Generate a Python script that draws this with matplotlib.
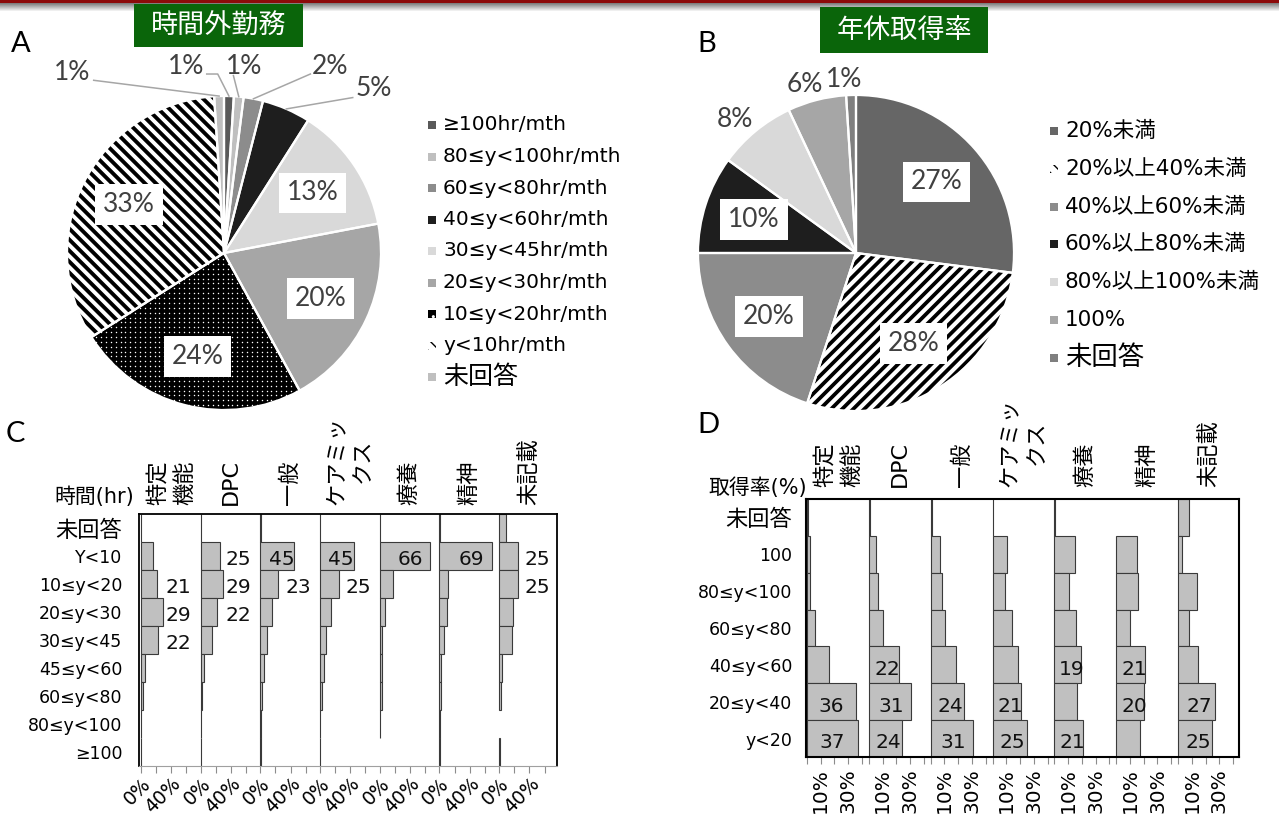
#!/usr/bin/env python3
"""
時間外勤務 / 年休取得率 : two pies (A, B) and panel histograms by hospital type (C, D).
"""
import numpy as np
import matplotlib
matplotlib.use("Agg")
import matplotlib.pyplot as plt
from matplotlib.collections import LineCollection
from matplotlib.patches import Rectangle

plt.rcParams["font.family"] = ["DejaVu Sans", "Noto Sans CJK JP"]
plt.rcParams["axes.unicode_minus"] = False

W_PX, H_PX = 1279, 818

# ---- A: overtime hours per month (% of respondents) ----
ot_labels = ["≥100hr/mth", "80≤y<100hr/mth", "60≤y<80hr/mth", "40≤y<60hr/mth",
             "30≤y<45hr/mth", "20≤y<30hr/mth", "10≤y<20hr/mth", "y<10hr/mth", "未回答"]
ot_share = [1, 1, 2, 5, 13, 20, 24, 33, 1]
ot_colors = ["#595959", "#bfbfbf", "#8c8c8c", "#1e1e1e", "#d9d9d9",
             "#a6a6a6", "#000000", "#ffffff", "#bfbfbf"]

# ---- B: paid-leave uptake (% of respondents) ----
lv_labels = ["20%未満", "20%以上40%未満", "40%以上60%未満", "60%以上80%未満",
             "80%以上100%未満", "100%", "未回答"]
lv_share = [27, 28, 20, 10, 8, 6, 1]
lv_colors = ["#666666", "#ffffff", "#8c8c8c", "#1e1e1e", "#d9d9d9", "#a6a6a6", "#7f7f7f"]

hosp_types = ["特定\n機能", "DPC", "一般", "ケアミッ\nクス", "療養", "精神", "未記載"]

# ---- C: overtime band by hospital type (%) ----
c_rows = ["未回答", "Y<10", "10≤y<20", "20≤y<30", "30≤y<45",
          "45≤y<60", "60≤y<80", "80≤y<100", "≥100"]
c_tokutei = [0.5, 16, 21, 29, 22, 5, 3, 0.5, 0.5]
c_dpc = [0.5, 25, 29, 22, 15.5, 5, 2, 0.5, 0.5]
c_ippan = [0.5, 45, 23, 15.5, 8.5, 4.5, 2.5, 0.5, 0.5]
c_caremix = [0.5, 45, 25, 14.5, 8, 5.5, 3, 0.5, 0.5]
c_ryoyo = [0.3, 66, 18, 7.5, 3.5, 2.5, 2.5, 0.3, 0]
c_seishin = [0.3, 69, 11.5, 9.5, 6, 2.5, 2, 0.5, 0.5]
c_mikisai = [9, 25, 25, 18, 17, 3.5, 3, 0, 0.5]

# ---- D: leave uptake band by hospital type (%) ----
d_rows = ["未回答", "100", "80≤y<100", "60≤y<80", "40≤y<60", "20≤y<40", "y<20"]
d_tokutei = [1, 2.5, 2.5, 6, 16, 36, 37]
d_dpc = [0.5, 5, 7, 10, 22, 31, 24]
d_ippan = [0.8, 6.5, 8.5, 10.5, 18.5, 24, 31]
d_caremix = [0.5, 10.5, 9, 14, 18.5, 21, 25]
d_ryoyo = [0.3, 15, 10.5, 15.5, 19, 16.5, 21]
d_seishin = [0, 15, 15.5, 10, 21, 20, 17]
d_mikisai = [8, 2.5, 13.5, 8, 14.5, 27, 25]

c_values = [c_tokutei, c_dpc, c_ippan, c_caremix, c_ryoyo, c_seishin, c_mikisai]
d_values = [d_tokutei, d_dpc, d_ippan, d_caremix, d_ryoyo, d_seishin, d_mikisai]

BAR_FC, BAR_EC = "#c0c0c0", "#3a3a3a"
LABEL_MIN = 19
PCT_GREY = "#404040"
GREEN = "#0a650a"

fig = plt.figure(figsize=(W_PX / 100, H_PX / 100), dpi=100)

# overlay in pixel coordinates for the header rule, captions and legends
ov = fig.add_axes([0, 0, 1, 1])
ov.axis("off")
band = np.ones((12, 1, 3))
band[:3, 0, :] = [0.55, 0.04, 0.04]
band[3:, 0, :] = np.linspace(0.5, 1.0, 9)[:, None]
ov.imshow(band, extent=(0, W_PX, 12, 0), aspect="auto", interpolation="bilinear", zorder=1)
ov.set_xlim(0, W_PX)
ov.set_ylim(H_PX, 0)


def title_box(x0, y0, w, h, text):
    ov.add_patch(Rectangle((x0, y0), w, h, facecolor=GREEN, edgecolor="none", zorder=2))
    ov.text(x0 + w / 2, y0 + h / 2 + 1, text, color="white", fontsize=19.5,
            ha="center", va="center", zorder=3)


title_box(134, 4, 169, 43, "時間外勤務")
title_box(820, 7, 168, 46, "年休取得率")
for x, y, s in [(11, 44, "A"), (697, 44, "B"), (6, 434, "C"), (697, 425, "D")]:
    ov.text(x, y, s, fontsize=21, family="Lato", va="center", ha="left", color="black")


def legend(x, y0, dy, labels, colors, fontsize, hatched, dotted=()):
    for i, (lab, col) in enumerate(zip(labels, colors)):
        y = y0 + i * dy
        if i in hatched:
            ov.add_patch(Rectangle((x, y - 4), 8, 8, facecolor="white", edgecolor="black",
                                   hatch="\\\\\\", linewidth=0))
        elif i in dotted:
            ov.add_patch(Rectangle((x, y - 4), 8, 8, facecolor="black", edgecolor="white",
                                   hatch="..", linewidth=0))
        else:
            ov.add_patch(Rectangle((x, y - 4), 8, 8, facecolor=col, edgecolor="none"))
        size = fontsize + 3.5 if lab == "未回答" else fontsize
        ov.text(x + 15, y, lab, fontsize=size, va="center", ha="left", color="black")


legend(428, 125, 31.5, ot_labels, ot_colors, 14.5, hatched=(7,), dotted=(6,))
legend(1050, 131, 37.8, lv_labels, lv_colors, 15.5, hatched=(1,))


def pie_axes(cx, cy, r, shares, colors, L=1.45):
    ax = fig.add_axes([(cx - L * r) / W_PX, 1 - (cy + L * r) / H_PX,
                       2 * L * r / W_PX, 2 * L * r / H_PX])
    wedges, _ = ax.pie(shares, colors=colors, startangle=90, counterclock=False,
                       radius=1, wedgeprops=dict(linewidth=0, zorder=1))
    ax.pie(shares, startangle=90, counterclock=False, radius=1,
           wedgeprops=dict(fill=False, edgecolor="white", linewidth=1.6, zorder=3))
    return ax, wedges


def stripes(ax, wedge, slope, pitch, lw):
    offs = np.arange(-3, 3, pitch)
    segs = [[(-1.2, -1.2 * slope + c), (1.2, 1.2 * slope + c)] for c in offs]
    lc = LineCollection(segs, colors="black", linewidths=lw, zorder=2)
    ax.add_collection(lc, autolim=False)
    lc.set_clip_path(wedge)


def dots(ax, wedge, step, size):
    g = np.arange(-1.0, 1.0, step)
    gx, gy = np.meshgrid(g, g)
    sc = ax.scatter(gx.ravel(), gy.ravel(), s=size, c="white", marker="o",
                    linewidths=0, zorder=2)
    sc.set_clip_path(wedge)


def mid_dir(w):
    a = np.deg2rad((w.theta1 + w.theta2) / 2)
    return np.cos(a), np.sin(a)


def pct_label(ax, x, y, v, boxed):
    kw = dict(ha="center", va="center", fontsize=19, color=PCT_GREY, family="Lato", zorder=5)
    if boxed:
        kw["bbox"] = dict(boxstyle="square,pad=0.3", facecolor="white", edgecolor="none")
    ax.text(x, y, f"{v}%", **kw)


def finish_pie(ax, L=1.45):
    ax.set_xlim(-L, L)
    ax.set_ylim(-L, L)
    ax.set_aspect("equal")
    ax.axis("off")


# ---- A ----
axA, wA = pie_axes(224, 253, 157, ot_share, ot_colors)
dots(axA, wA[6], 0.031, 1.1)
stripes(axA, wA[7], -1, 0.07, 2.8)
for w, v in zip(wA, ot_share):
    if v >= 10:
        ux, uy = mid_dir(w)
        pct_label(axA, 0.68 * ux, 0.68 * uy, v, True)
# small slices: label position, then leader path toward the slice edge
a_callouts = {
    8: ((-0.97, 1.15), [(-0.83, 1.10)]),
    0: ((-0.24, 1.19), [(-0.11, 1.14), (-0.04, 1.14)]),
    1: ((0.13, 1.19), [(0.06, 1.13)]),
    2: ((0.675, 1.19), [(0.55, 1.14)]),
    3: ((0.955, 1.045), [(0.82, 0.99)]),
}
for i, (lxy, path) in a_callouts.items():
    ux, uy = mid_dir(wA[i])
    pts = np.array(path + [(ux, uy)])
    axA.plot(pts[:, 0], pts[:, 1], color="#a6a6a6", linewidth=1.1, zorder=4)
    pct_label(axA, lxy[0], lxy[1], ot_share[i], False)
finish_pie(axA)

# ---- B ----
axB, wB = pie_axes(856, 253, 158, lv_share, lv_colors)
stripes(axB, wB[1], 1, 0.07, 2.7)
for w, v in zip(wB, lv_share):
    ux, uy = mid_dir(w)
    if v >= 10:
        pct_label(axB, 0.68 * ux, 0.68 * uy, v, True)
    else:
        pct_label(axB, 1.14 * ux - 0.04, 1.1 * uy, v, False)
finish_pie(axB)


def panel(rect, rows, values, col_w, x0, ticks, tick_text, label_x, label_dy, head_pad):
    ax = fig.add_axes(rect)
    y = np.arange(len(rows))
    for i, vals in enumerate(values):
        vals = np.asarray(vals, float)
        keep = vals > 0
        ax.barh(y[keep], vals[keep], height=1.0, left=i * col_w, color=BAR_FC,
                edgecolor=BAR_EC, linewidth=0.8, zorder=2)
        for yi, v in zip(y, vals):
            if v >= LABEL_MIN:
                ax.text(i * col_w + label_x(v), yi + label_dy, f"{v:.0f}", ha="center",
                        va="center", fontsize=14.5, color="#111111", zorder=3)
        ax.text(i * col_w + col_w / 2, 1.0 + head_pad, hosp_types[i],
                transform=ax.get_xaxis_transform(), rotation=90, ha="center",
                va="bottom", fontsize=16, linespacing=1.4)
    ax.set_xlim(x0, x0 + len(values) * col_w)
    ax.set_ylim(len(rows) - 0.5, -0.5)
    ax.set_yticks(y, rows)
    for lab in ax.get_yticklabels():
        lab.set_fontsize(16 if lab.get_text() == "未回答" else 12.5)
    pos = [i * col_w + t for i in range(len(values)) for t in ticks]
    txt = tick_text * len(values)
    ax.set_xticks(pos, txt)
    return ax


# ---- C ----
axC = panel([139 / W_PX, 1 - 766 / H_PX, 418 / W_PX, 252 / H_PX], c_rows, c_values,
            79, -2.5, [0, 20, 40, 60], ["0%", "", "40%", ""],
            lambda v: v * 0.62 if v > 40 else 50, 0.12, 0.036)
axC.tick_params(axis="y", length=0, pad=12)
axC.tick_params(axis="x", length=5, color="#8c8c8c", labelsize=13.5, pad=1)
for lab in axC.get_xticklabels():
    lab.set_rotation(45)
    lab.set_ha("right")
    lab.set_rotation_mode("anchor")
for s in ["top", "left", "right"]:
    axC.spines[s].set_linewidth(1.3)
axC.spines["bottom"].set_color("#a0a0a0")
ov.text(134, 507, "時間(hr)", fontsize=15, ha="right", va="bottom")

# ---- D ----
axD = panel([806 / W_PX, 1 - 757 / H_PX, 433 / W_PX, 258 / H_PX], d_rows, d_values,
            45, -0.7, [0, 10, 20, 30, 40], ["", "10%", "", "30%", ""],
            lambda v: v * 0.3 + 7, 0.12, 0.046)
axD.tick_params(axis="y", length=0, pad=10)
axD.tick_params(axis="x", length=5, color="#8c8c8c", labelsize=14.5, pad=3,
                labelrotation=90)
for s in axD.spines.values():
    s.set_linewidth(1.5)
ov.text(807, 498, "取得率(%)", fontsize=15, ha="right", va="bottom")

fig.savefig("out.png", dpi=100)
